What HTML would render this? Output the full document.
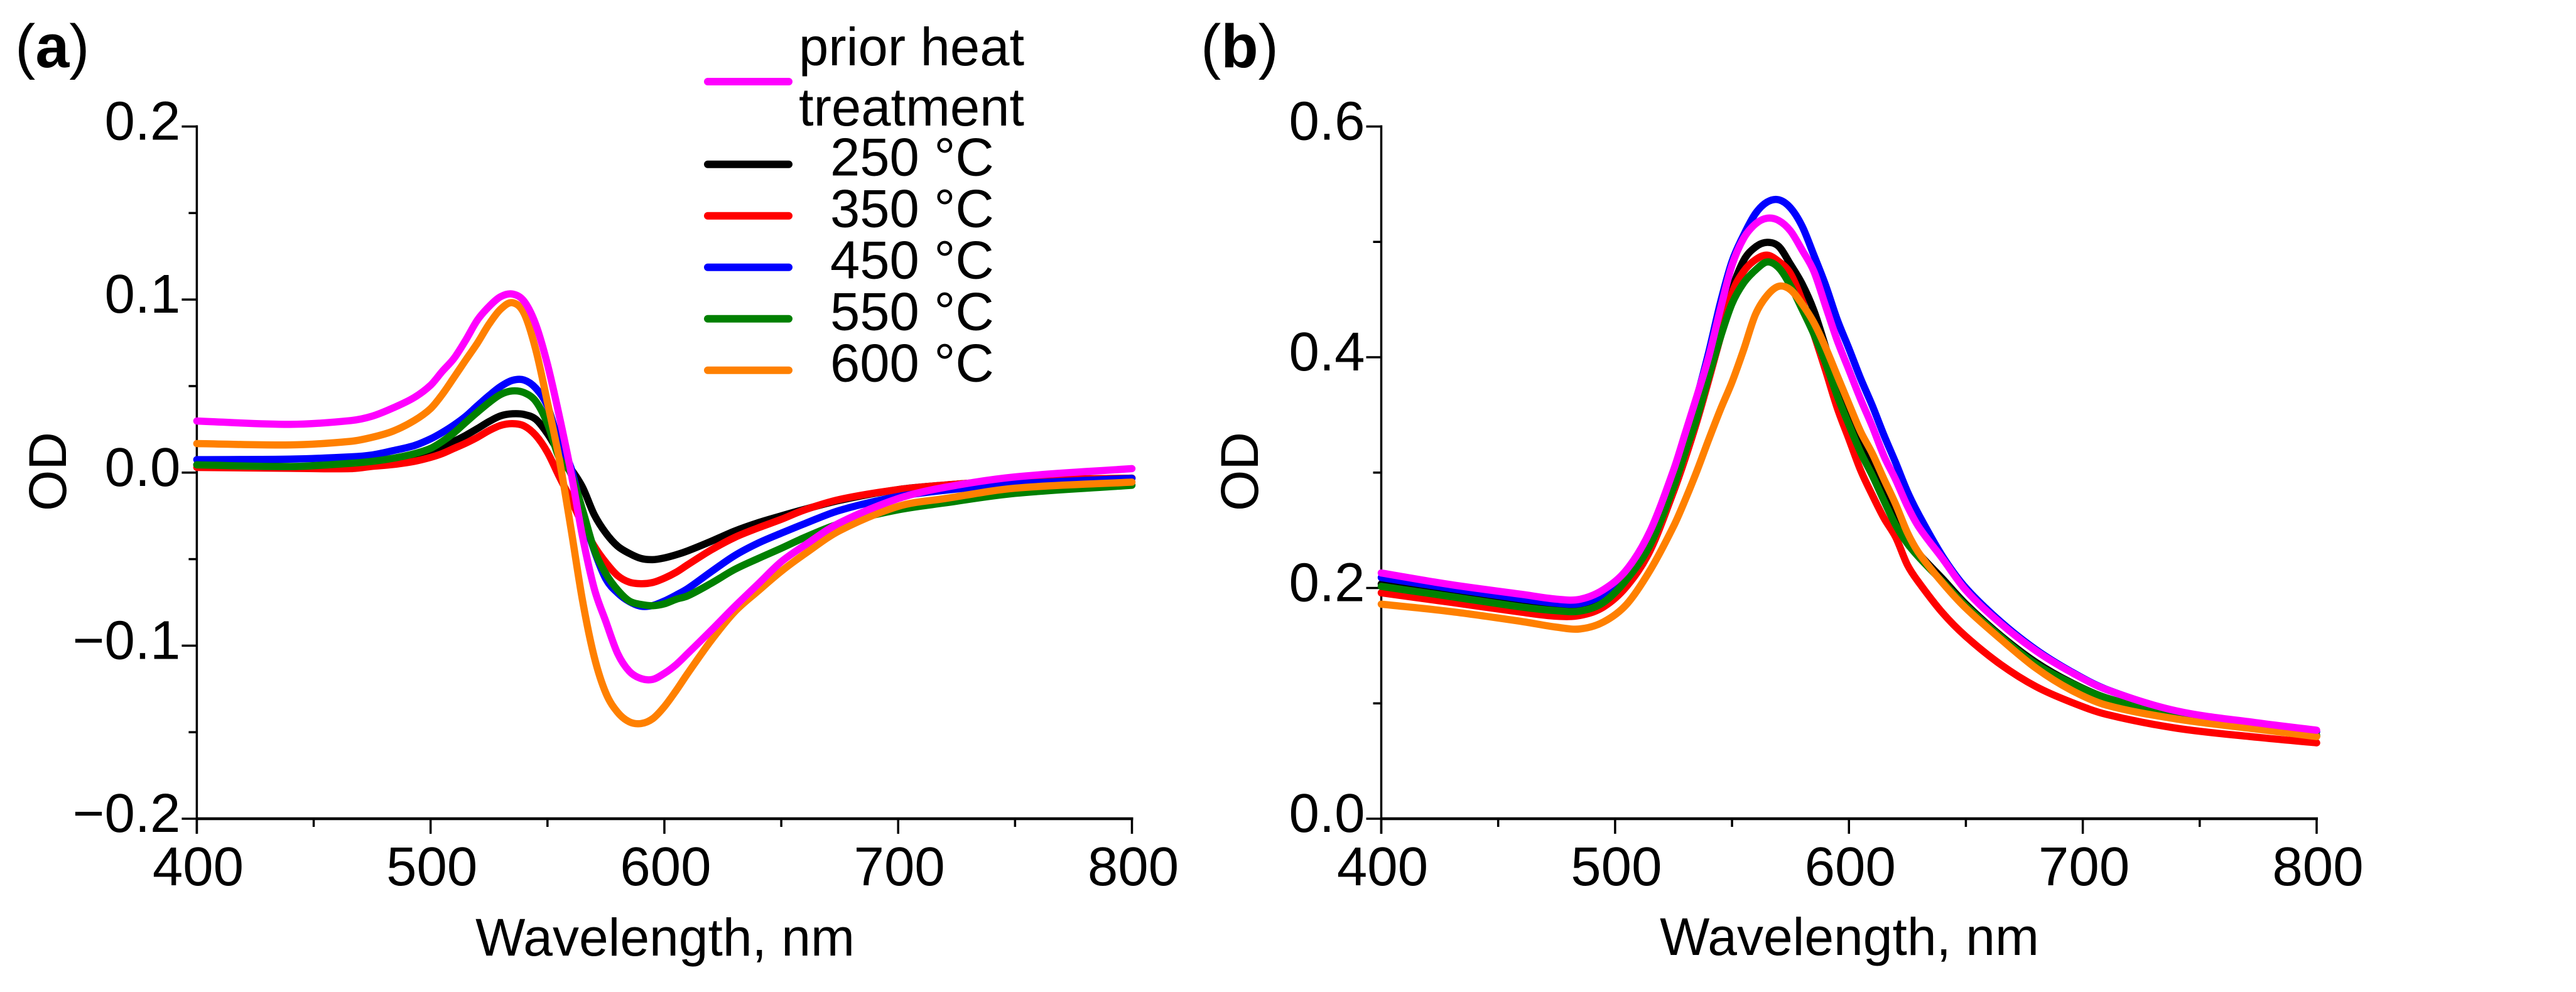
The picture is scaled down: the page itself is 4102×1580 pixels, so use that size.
<!DOCTYPE html>
<html lang="en">
<head>
<meta charset="utf-8">
<title>OD spectra before and after heat treatment</title>
<style>
html,body{margin:0;padding:0;background:#fff;}
svg{display:block;font-family:"Liberation Sans",Arial,sans-serif;fill:#000;}
</style>
</head>
<body>
<svg id="figure" xmlns="http://www.w3.org/2000/svg" width="4102" height="1580" viewBox="0 0 4102 1580">
<rect x="0" y="0" width="4102" height="1580" fill="#fff"/>
<text x="24" y="107" font-size="97">(<tspan font-weight="bold">a</tspan>)</text>
<text x="1912" y="107" font-size="97">(<tspan font-weight="bold">b</tspan>)</text>
<text transform="translate(105 751) rotate(-90)" font-size="84" text-anchor="middle">OD</text>
<text transform="translate(2003 751) rotate(-90)" font-size="84" text-anchor="middle">OD</text>
<text x="1059" y="1522" font-size="84" text-anchor="middle">Wavelength, nm</text>
<text x="2945" y="1521" font-size="84" text-anchor="middle">Wavelength, nm</text>
<g id="panel-a"></g>
<g id="panel-b"></g>
<g id="legend"></g>
</svg>
<script>
// Shared tick data
const xTickLabels = [400, 500, 600, 700, 800];
const xMinorTicks = [450, 550, 650, 750];
const aYTicks = [0.2, 0.1, 0.0, -0.1, -0.2];
const aYMinorTicks = [0.15, 0.05, -0.05, -0.15];
const bYTicks = [0.6, 0.4, 0.2, 0.0];
const bYMinorTicks = [0.5, 0.3, 0.1];

// Panel (a) wavelength grid and series
const aWavelengths = [400,440,466,475,484,493,500,505,510,515,520,525,530,535,540,545,550,555,560,565,570,575,580,585,590,595,600,605,610,620,630,640,650,660,675,700,720,750,800];
const aBlack = [.0045,.0035,.0035,.0045,.006,.0083,.0115,.0145,.018,.0215,.0254,.0295,.0328,.034,.0336,.0308,.0225,.0115,.0022,-.0085,-.0243,-.035,-.0425,-.0467,-.0496,-.0503,-.0493,-.0475,-.0452,-.0397,-.0338,-.029,-.025,-.0212,-.016,-.0098,-.0072,-.0045,-.0032];
const aRed = [.003,.0025,.0023,.0036,.0047,.0065,.0088,.011,.014,.017,.0204,.0243,.0273,.0283,.027,.0215,.0117,-.0022,-.0155,-.03,-.0425,-.052,-.0595,-.0633,-.0642,-.0635,-.061,-.0576,-.0532,-.0447,-.0375,-.032,-.027,-.0215,-.0155,-.0098,-.0072,-.0045,-.0032];
const aBlue = [.0075,.0078,.0091,.0102,.0127,.0156,.0195,.0232,.0275,.0325,.0386,.0445,.0498,.0533,.0535,.0488,.0384,.0175,.003,-.0235,-.045,-.0615,-.0695,-.0745,-.0772,-.0768,-.0742,-.0708,-.067,-.0573,-.048,-.0408,-.035,-.0295,-.0218,-.0138,-.0102,-.0065,-.0033];
const aGreen = [.0045,.0035,.0054,.0065,.0083,.0109,.014,.018,.023,.029,.0349,.0405,.0452,.0472,.0462,.0412,.0283,.0085,-.0005,-.0215,-.0445,-.0585,-.0678,-.0742,-.0762,-.0769,-.0758,-.0732,-.0712,-.064,-.056,-.0497,-.0437,-.0375,-.0295,-.0215,-.0175,-.012,-.0073];
const aOrange = [.0168,.016,.0181,.0204,.024,.0301,.037,.0452,.055,.065,.0748,.0858,.0945,.0982,.092,.071,.0405,.008,-.032,-.074,-.1065,-.1275,-.1385,-.144,-.145,-.1422,-.1352,-.126,-.116,-.097,-.0805,-.0685,-.057,-.047,-.0335,-.0195,-.015,-.009,-.0055];
const aMagenta = [.0298,.0279,.0301,.0326,.0374,.0434,.0505,.0585,.066,.0765,.0881,.096,.1017,.1032,.099,.0855,.0625,.033,.0005,-.037,-.067,-.0862,-.1045,-.1148,-.119,-.1195,-.116,-.111,-.1045,-.0912,-.0775,-.0645,-.0515,-.042,-.029,-.015,-.0085,-.0025,.0023];

// Panel (b) wavelength grid and series
const bWavelengths = [400,430,460,475,485,495,505,515,525,530,535,540,545,550,555,560,565,570,575,580,585,590,595,600,605,610,615,620,625,630,640,650,665,680,695,710,740,775,800];
const bBlack = [.2035,.1945,.186,.1825,.1825,.1905,.2085,.241,.2945,.3245,.3575,.3925,.429,.4595,.484,.4955,.4996,.496,.4805,.4635,.4405,.409,.3755,.345,.325,.304,.283,.262,.244,.2295,.208,.186,.1585,.1355,.118,.1048,.0895,.0785,.0715];
const bRed = [.1958,.1875,.179,.1755,.1762,.1835,.2015,.2325,.2835,.3125,.3445,.38,.417,.4555,.4745,.4845,.4885,.483,.4725,.449,.42,.3886,.356,.329,.302,.2805,.2605,.244,.22,.2045,.1785,.158,.1335,.1145,.101,.0905,.0785,.0705,.0658];
const bBlue = [.209,.1995,.1905,.1868,.1865,.1945,.2125,.2455,.2995,.3315,.3655,.404,.447,.483,.506,.5245,.5345,.5365,.5295,.5135,.4885,.4625,.4325,.4075,.3815,.358,.3323,.3085,.2835,.263,.2275,.2,.1705,.1465,.1275,.1122,.0932,.0825,.0755];
const bGreen = [.2014,.1925,.1835,.1803,.18,.1875,.2075,.2375,.2875,.3178,.3475,.383,.417,.4465,.4645,.4755,.4826,.4775,.462,.4415,.42,.395,.3665,.3415,.3175,.2975,.2755,.2545,.2385,.2265,.2055,.1845,.1575,.134,.1175,.1047,.0895,.0785,.0722];
const bOrange = [.186,.1795,.171,.166,.1645,.1705,.186,.2155,.2535,.2765,.3015,.3285,.3545,.3785,.4067,.437,.4535,.4615,.4585,.446,.43,.4085,.384,.3595,.3355,.3165,.2942,.2725,.248,.23,.2045,.1825,.1555,.1305,.1115,.0985,.0865,.0775,.0712];
const bMagenta = [.213,.2028,.1945,.1903,.1902,.1985,.216,.2495,.3022,.3342,.3665,.4,.4415,.4798,.5032,.5155,.5205,.5185,.5095,.4928,.4745,.4445,.4145,.389,.3635,.34,.3142,.2938,.271,.2525,.2255,.198,.169,.1455,.127,.112,.0935,.083,.0767];

// Legend data
const legendLabels = ["prior heat", "250 °C", "350 °C", "450 °C", "550 °C", "600 °C"];
const legendColors = ["#ff00ff", "#000000", "#ff0000", "#0000ff", "#008000", "#ff8000"];

const NS = "http://www.w3.org/2000/svg";
function make(tag, parent, props) {
  const el = document.createElementNS(NS, tag);
  for (const k in props) el.setAttribute(k, props[k]);
  parent.appendChild(el);
  return el;
}
function smoothPath(pts) {
  const n = pts.length;
  const slope = i => {
    const a = pts[Math.max(i - 1, 0)], b = pts[Math.min(i + 1, n - 1)];
    return (b[1] - a[1]) / (b[0] - a[0]);
  };
  let d = "M" + pts[0][0].toFixed(2) + " " + pts[0][1].toFixed(2);
  for (let i = 0; i < n - 1; i++) {
    const p1 = pts[i], p2 = pts[i + 1], dx = (p2[0] - p1[0]) / 3;
    d += "C" + (p1[0] + dx).toFixed(2) + " " + (p1[1] + slope(i) * dx).toFixed(2) + " " +
         (p2[0] - dx).toFixed(2) + " " + (p2[1] - slope(i + 1) * dx).toFixed(2) + " " +
         p2[0].toFixed(2) + " " + p2[1].toFixed(2);
  }
  return d;
}
function formatY(v) {
  const s = Math.abs(v).toFixed(1);
  return v < 0 ? "\u2212" + s : s;
}
function drawPanel(cfg) {
  const g = document.getElementById(cfg.id);
  const sx = w => cfg.x0 + (w - 400) * (cfg.x1 - cfg.x0) / 400;
  const sy = v => cfg.yTop + (cfg.vMax - v) * (cfg.yBot - cfg.yTop) / (cfg.vMax - cfg.vMin);
  const axisY = make("line", g, {x1: sx(400), x2: sx(400), y1: sy(cfg.vMax) - 2, y2: sy(cfg.vMin) + 24, stroke: "#000", "stroke-width": 3.5});
  
  
  const axisX = make("line", g, {x1: sx(400), x2: sx(800) + 2, y1: sy(cfg.vMin), y2: sy(cfg.vMin), stroke: "#000", "stroke-width": 4.5});
  
  
  for (const t of xTickLabels) {
    const tick = make("line", g, {x1: sx(t), x2: sx(t), y1: sy(cfg.vMin), y2: sy(cfg.vMin) + 24, stroke: "#000", "stroke-width": 3.5});
    
    
    const lab = make("text", g, {x: sx(t) + 2, y: 1410, "font-size": 87, "text-anchor": "middle"});
    
    
    lab.textContent = t;
  }
  for (const t of xMinorTicks) {
    const tick = make("line", g, {x1: sx(t), x2: sx(t), y1: sy(cfg.vMin), y2: sy(cfg.vMin) + 13, stroke: "#000", "stroke-width": 3.5});
    
    
  }
  for (const t of cfg.yTicks) {
    const tick = make("line", g, {x1: sx(400) - 24, x2: sx(400), y1: sy(t), y2: sy(t), stroke: "#000", "stroke-width": 3.5});
    
    
    const lab = make("text", g, {x: sx(400) - 26, y: sy(t) + 21, "font-size": 87, "text-anchor": "end"});
    
    
    lab.textContent = formatY(t);
  }
  for (const t of cfg.yMinor) {
    const tick = make("line", g, {x1: sx(400) - 13, x2: sx(400), y1: sy(t), y2: sy(t), stroke: "#000", "stroke-width": 3.5});
    
    
  }
  for (const s of cfg.series) {
    const pts = cfg.wavelengths.map((w, i) => [sx(w), sy(s.values[i])]);
    const path = make("path", g, {d: smoothPath(pts), fill: "none", stroke: s.color, "stroke-width": 11.5, "stroke-linecap": "round", "stroke-linejoin": "round"});
    
    
  }
}
drawPanel({
  id: "panel-a", x0: 313.4, x1: 1802.5, yTop: 201.5, yBot: 1304, vMax: 0.2, vMin: -0.2,
  yTicks: aYTicks, yMinor: aYMinorTicks, wavelengths: aWavelengths,
  series: [
    {name: "250c", color: "#000000", values: aBlack},
    {name: "350c", color: "#ff0000", values: aRed},
    {name: "450c", color: "#0000ff", values: aBlue},
    {name: "550c", color: "#008000", values: aGreen},
    {name: "600c", color: "#ff8000", values: aOrange},
    {name: "prior-heat-treatment", color: "#ff00ff", values: aMagenta}
  ]
});
drawPanel({
  id: "panel-b", x0: 2199.5, x1: 3689, yTop: 201.5, yBot: 1304, vMax: 0.6, vMin: 0,
  yTicks: bYTicks, yMinor: bYMinorTicks, wavelengths: bWavelengths,
  series: [
    {name: "250c", color: "#000000", values: bBlack},
    {name: "350c", color: "#ff0000", values: bRed},
    {name: "450c", color: "#0000ff", values: bBlue},
    {name: "550c", color: "#008000", values: bGreen},
    {name: "600c", color: "#ff8000", values: bOrange},
    {name: "prior-heat-treatment", color: "#ff00ff", values: bMagenta}
  ]
});
// Legend
const legend = document.getElementById("legend");
legendColors.forEach((c, i) => {
  const y = i === 0 ? 130 : 261.7 + (i - 1) * 82;
  const sw = make("line", legend, {x1: 1127, x2: 1256, y1: y, y2: y, stroke: c, "stroke-width": 12, "stroke-linecap": "round"});
  
  
  const t = make("text", legend, {x: i === 0 ? 1272 : 1322, y: i === 0 ? 104 : y + 18, "font-size": 85});
  
  
  t.textContent = legendLabels[i];
});
const legendSecond = make("text", legend, {x: 1272, y: 200, "font-size": 85});


legendSecond.textContent = "treatment";
</script>
</body>
</html>
